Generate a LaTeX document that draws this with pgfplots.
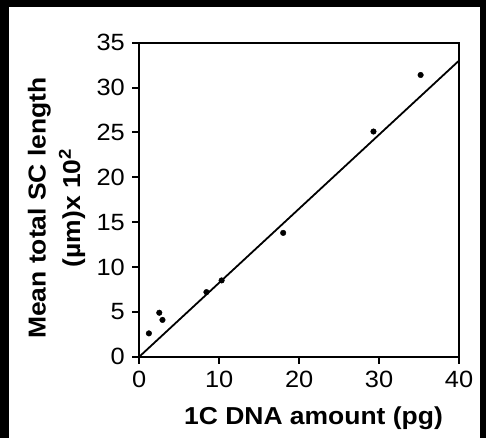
\documentclass[border=0pt]{standalone}
\usepackage{fontspec}
\setmainfont{Liberation Sans}[FakeStretch=1.08]
\usepackage{pgfplots}
\pgfplotsset{compat=1.18}
\begin{document}
\begin{tikzpicture}[x=1pt,y=1pt]
\useasboundingbox (0,0) rectangle (486,438);
\fill[white] (0,0) rectangle (486,438);
\fill[black] (0,431) rectangle (486,438);
\fill[black] (0,0) rectangle (9,438);
\fill[black] (480,0) rectangle (486,438);
\begin{axis}[
  at={(139.3pt,81.3pt)}, anchor=south west,
  scale only axis, width=319.7pt, height=314pt,
  xmin=0, xmax=40, ymin=0, ymax=35,
  xtick={0,10,20,30,40}, ytick={0,5,10,15,20,25,30,35},
  xtick pos=left, ytick pos=left, tick align=outside,
  major tick length=7pt,
  axis line style={line width=2pt},
  every tick/.style={black, line width=2pt},
  /pgf/number format/assume math mode=true,
  tick label style={font=\fontsize{23.5}{27}\selectfont, black},
  xticklabel style={yshift=-4pt},
  yticklabel style={xshift=-4pt},
  clip=false,
]
\addplot[black, line width=1.8pt] coordinates {(0,0) (40,33)};
\addplot[only marks, mark=*, mark size=2.8pt, black] coordinates {
(1.2,2.6) (2.5,4.9) (2.9,4.1) (8.4,7.2) (10.3,8.5) (18.0,13.8) (29.3,25.1) (35.2,31.4)};
\end{axis}
\node[rotate=90, anchor=base, inner sep=0pt, font=\fontsize{24.5}{28}\selectfont\bfseries] at (45.7,230) {Mean total SC length};
\node[rotate=90, anchor=base, inner sep=0pt, font=\fontsize{24.5}{28}\selectfont\bfseries] at (80,230) {(µm)x 10\textsuperscript{2}};
\node[anchor=base, inner sep=0pt, font=\fontsize{24.5}{28}\selectfont\bfseries] at (313.5,13.7) {1C DNA amount (pg)};
\end{tikzpicture}
\end{document}
